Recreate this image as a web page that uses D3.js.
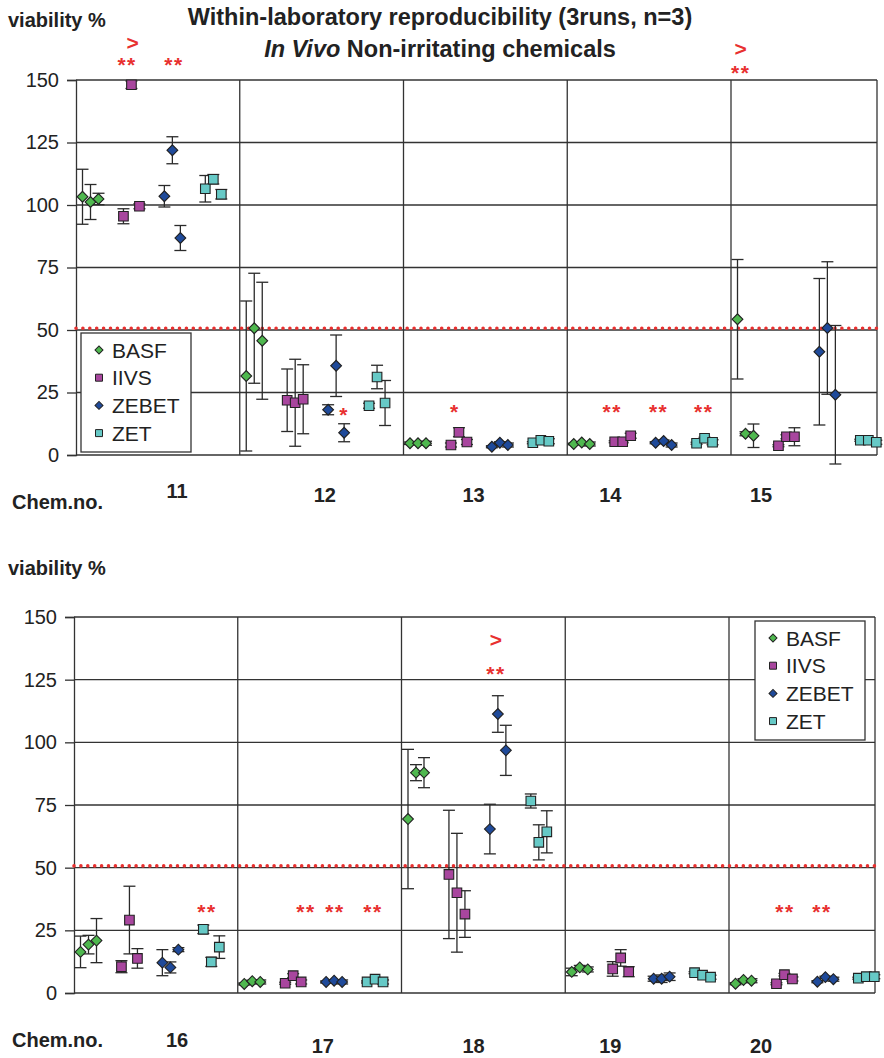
<!DOCTYPE html>
<html>
<head>
<meta charset="utf-8">
<script src="https://cdn.jsdelivr.net/npm/d3@7"></script>
<style>
  body { margin: 0; background: #fff; }
  svg { display: block; }
  text { font-family: "Liberation Sans", Arial, Helvetica, sans-serif; fill: #222; }
</style>
</head>
<body>
<div id="chart"></div>
<script>
// labs, chemicals, ticks
var labs = ["BASF", "IIVS", "ZEBET", "ZET"];
var chemsTop = ["11", "12", "13", "14", "15"];
var chemsBottom = ["16", "17", "18", "19", "20"];
var runs = [1, 2, 3];
var yTicks = [0, 25, 50, 75, 100, 125, 150];
var cutoff = 50.7;

// viability % per chemical (11..20), 3 runs each, with SD
var basfMean = [[103.3, 101.2, 102.4], [31.6, 50.7, 45.7], [4.7, 4.7, 4.7], [4.4, 5.0, 4.4], [54.3, 8.5, 7.7],
                [16.4, 19.3, 20.9], [3.6, 4.7, 4.4], [69.4, 87.9, 87.9], [8.4, 10.2, 9.4], [3.7, 5.2, 4.9]];
var basfSd   = [[11, 7, 2.3], [30, 22, 23.4], [0.5, 0.5, 0.8], [0.3, 0.3, 0.8], [23.9, 0.8, 4.7],
                [6.3, 3.7, 8.8], [0.4, 0.4, 0.8], [27.8, 3.2, 6], [1.5, 0.8, 1], [0.4, 0.5, 0.8]];
var iivsMean = [[95.5, 148.1, 99.5], [21.9, 20.9, 22.3], [4.0, 9.1, 5.2], [5.3, 5.3, 7.7], [3.7, 7.3, 7.3],
                [10.5, 29.1, 13.8], [3.9, 6.9, 4.4], [47.3, 40.0, 31.5], [9.6, 14.0, 8.5], [3.7, 7.3, 5.6]];
var iivsSd   = [[3, 1.5, 1], [12.5, 17.4, 13.8], [0.8, 1.8, 1], [0.4, 0.4, 1], [0.4, 0.8, 3.6],
                [2.4, 13.5, 3.9], [0.4, 0.8, 0.8], [25.6, 23.7, 9.3], [2.9, 3.3, 2], [0.4, 0.5, 0.8]];
var zebetMean = [[103.5, 121.9, 86.8], [18.1, 35.7, 8.9], [3.3, 4.9, 4.0], [4.9, 5.6, 4.0], [41.3, 50.8, 24.1],
                 [12.1, 10.2, 17.3], [4.4, 4.9, 4.4], [65.4, 111.3, 96.8], [5.7, 5.7, 6.5], [4.5, 6.3, 5.5]];
var zebetSd   = [[4.3, 5.4, 5], [2, 12.3, 3.6], [0.4, 0.4, 0.8], [0.4, 0.4, 0.8], [29.3, 26.5, 27.7],
                 [5.2, 2.2, 0.8], [0.4, 0.4, 0.8], [9.9, 7.3, 10], [1, 1.5, 1.5], [0.4, 0.4, 0.8]];
var zetMean = [[106.5, 110.3, 104.3], [19.7, 31.2, 20.8], [4.9, 5.9, 5.5], [4.7, 6.7, 5.1], [5.9, 5.9, 5.1],
               [25.4, 12.4, 18.3], [4.4, 5.5, 4.4], [76.6, 60.1, 64.3], [8.1, 7.1, 6.3], [5.9, 6.5, 6.5]];
var zetSd   = [[5.3, 1.9, 1.9], [1, 4.7, 9], [0.4, 0.4, 1], [0.4, 0.4, 1], [0.4, 0.4, 0.8],
               [1.7, 1.8, 4.5], [0.4, 0.4, 0.8], [2.8, 7, 8.4], [0.4, 0.4, 0.8], [0.4, 0.4, 0.8]];

// significance marks: chemical, lab, run position, value level, text
var marks = [
  ["11", "IIVS", 2.14, 165, ">"], ["11", "IIVS", 1.46, 158, "**"], ["11", "ZEBET", 2.19, 158, "**"],
  ["12", "ZEBET", 2.99, 18, "*"], ["13", "IIVS", 1.5, 19.3, "*"],
  ["14", "IIVS", 0.7, 19.3, "**"], ["14", "ZEBET", 1.37, 19.3, "**"], ["14", "ZET", 1.9, 19.3, "**"],
  ["15", "BASF", 1.4, 162.4, ">"], ["15", "BASF", 1.4, 155, "**"],
  ["16", "ZET", 1.46, 34.3, "**"],
  ["17", "IIVS", 3.6, 34.3, "**"], ["17", "ZEBET", 2.1, 34.3, "**"], ["17", "ZET", 1.74, 34.3, "**"],
  ["18", "ZEBET", 1.76, 140.8, ">"], ["18", "ZEBET", 1.76, 129.2, "**"],
  ["20", "IIVS", 2.06, 34.3, "**"], ["20", "ZEBET", 1.57, 34.3, "**"]
];

var means = { BASF: basfMean, IIVS: iivsMean, ZEBET: zebetMean, ZET: zetMean };
var sds = { BASF: basfSd, IIVS: iivsSd, ZEBET: zebetSd, ZET: zetSd };
var allChems = chemsTop.concat(chemsBottom);

var color = { BASF: "#4fb84f", IIVS: "#a8469e", ZEBET: "#1f4a9a", ZET: "#66c9c6" };
var shape = { BASF: "diamond", IIVS: "square", ZEBET: "diamond", ZET: "square" };
var gridColor = "#333";
var red = "#e8302f";

var svg = d3.select("#chart").append("svg")
    .attr("width", 884)
    .attr("height", 1058);

// a marker path for one lab, rotated squares for diamonds
var markerPath = function(lab, big) {
    var size = shape[lab] === "diamond" ? (big ? 58 : 32) : (big ? 92 : 49);
    return d3.symbol(d3.symbolSquare, size)();
};

// Draws one of the two panels.
var drawPanel = function(cfg) {
    var g = svg.append("g");
    var groupWidth = 163.75;

    var gx = d3.scaleBand().domain(cfg.chems)
        .range([cfg.left, cfg.left + groupWidth * cfg.chems.length]);
    var lx = d3.scaleBand().domain(labs).range([0, gx.bandwidth()]);
    var rx = d3.scaleLinear().domain([1, 3]).range([6.5, 22.5]);
    var y = d3.scaleLinear().domain([0, 150]).range([cfg.bottom, cfg.top]);
    var xOf = function(chem, lab, run) { return gx(chem) + lx(lab) + rx(run); };

    // horizontal grid
    g.selectAll(".hgrid").data(yTicks).enter().append("line")
        .attr("x1", cfg.left).attr("x2", cfg.right)
        .attr("y1", function(d) { return y(d); })
        .attr("y2", function(d) { return y(d); })
        .attr("stroke", gridColor).attr("stroke-width", 1.3);

    // vertical separators between chemicals, plus the right frame
    var seps = cfg.chems.slice(1).map(function(c) { return gx(c); }).concat([cfg.right]);
    g.selectAll(".vgrid").data(seps).enter().append("line")
        .attr("x1", function(d) { return d; }).attr("x2", function(d) { return d; })
        .attr("y1", cfg.top).attr("y2", cfg.bottom)
        .attr("stroke", gridColor).attr("stroke-width", 1.3);

    // y axis
    var axis = g.append("g")
        .attr("transform", "translate(" + cfg.left + ",0)")
        .call(d3.axisLeft(y).tickValues(yTicks).tickSizeOuter(0).tickSize(9).tickPadding(8));
    axis.selectAll("path, line").attr("stroke", gridColor).attr("stroke-width", 1.3);
    axis.selectAll("text").attr("font-size", 20).attr("fill", "#222")
        .style("font-family", "'Liberation Sans', Arial, sans-serif");

    // 50% cut-off, red dotted
    g.append("line")
        .attr("x1", cfg.left).attr("x2", cfg.right)
        .attr("y1", y(cutoff)).attr("y2", y(cutoff))
        .attr("stroke", red).attr("stroke-width", 3.6)
        .attr("stroke-linecap", "round")
        .attr("stroke-dasharray", "0 6.9");

    // points for this panel
    var pts = [];
    cfg.chems.forEach(function(chem) {
        var ci = allChems.indexOf(chem);
        labs.forEach(function(lab) {
            runs.forEach(function(run, ri) {
                pts.push({ chem: chem, lab: lab, run: run,
                    v: means[lab][ci][ri], sd: sds[lab][ci][ri] });
            });
        });
    });

    var capW = 6;
    var eb = g.selectAll(".err").data(pts).enter().append("g")
        .attr("stroke", "#2a2a2a").attr("stroke-width", 1.3);
    eb.append("line")
        .attr("x1", function(d) { return xOf(d.chem, d.lab, d.run); })
        .attr("x2", function(d) { return xOf(d.chem, d.lab, d.run); })
        .attr("y1", function(d) { return y(d.v - d.sd); })
        .attr("y2", function(d) { return y(d.v + d.sd); });
    [-1, 1].forEach(function(s) {
        eb.append("line")
            .attr("x1", function(d) { return xOf(d.chem, d.lab, d.run) - capW; })
            .attr("x2", function(d) { return xOf(d.chem, d.lab, d.run) + capW; })
            .attr("y1", function(d) { return y(d.v + s * d.sd); })
            .attr("y2", function(d) { return y(d.v + s * d.sd); });
    });

    g.selectAll(".pt").data(pts).enter().append("path")
        .attr("d", function(d) { return markerPath(d.lab, true); })
        .attr("transform", function(d) {
            return "translate(" + xOf(d.chem, d.lab, d.run) + "," + y(d.v) + ")" +
                (shape[d.lab] === "diamond" ? " rotate(45)" : "");
        })
        .attr("fill", function(d) { return color[d.lab]; })
        .attr("stroke", "#222").attr("stroke-width", 1.1);

    // significance marks
    var pm = marks.filter(function(m) { return cfg.chems.indexOf(m[0]) >= 0; });
    g.selectAll(".mark").data(pm).enter().append("text")
        .attr("x", function(d) { return xOf(d[0], d[1], d[2]); })
        .attr("y", function(d) { return y(d[3]) + (d[4] === ">" ? 7 : 12); })
        .attr("text-anchor", "middle")
        .attr("font-weight", "bold")
        .attr("font-size", function(d) { return d[4] === ">" ? 21 : 21; })
        .attr("letter-spacing", function(d) { return d[4] === ">" ? 0 : 1.5; })
        .style("fill", red)
        .text(function(d) { return d[4]; });

    // chemical labels (staggered like the original)
    g.selectAll(".chem").data(cfg.chems).enter().append("text")
        .attr("x", function(d, i) { return gx(d) + cfg.labelDx[i]; })
        .attr("y", function(d, i) { return cfg.labelY[i]; })
        .attr("text-anchor", "middle")
        .attr("font-weight", "bold").attr("font-size", 20)
        .text(function(d) { return d; });

    g.append("text").attr("x", 12).attr("y", cfg.chemNoY)
        .attr("font-weight", "bold").attr("font-size", 20)
        .text("Chem.no.");

    g.append("text").attr("x", 8).attr("y", cfg.yLabelY)
        .attr("font-weight", "bold").attr("font-size", 20)
        .text("viability %");

    // legend
    var lg = g.append("g").attr("transform", "translate(" + cfg.legend[0] + "," + cfg.legend[1] + ")");
    lg.append("rect").attr("width", 110).attr("height", 119)
        .attr("fill", "#fff").attr("stroke", "#333").attr("stroke-width", 1.3);
    var row = lg.selectAll(".row").data(labs).enter().append("g")
        .attr("transform", function(d, i) { return "translate(0," + (17 + i * 27.7) + ")"; });
    row.append("path")
        .attr("d", function(d) { return markerPath(d, false); })
        .attr("transform", function(d) { return "translate(18,0)" + (shape[d] === "diamond" ? " rotate(45)" : ""); })
        .attr("fill", function(d) { return color[d]; })
        .attr("stroke", "#222").attr("stroke-width", 1);
    row.append("text").attr("x", 31).attr("y", 7.5)
        .attr("font-size", 21)
        .text(function(d) { return d; });
};

drawPanel({
    chems: chemsTop, left: 76, right: 877, top: 80, bottom: 455,
    legend: [81, 333], labelDx: [101, 85, 70, 43, 30],
    labelY: [498, 502, 502, 502, 502], chemNoY: 509, yLabelY: 27
});

drawPanel({
    chems: chemsBottom, left: 74, right: 875, top: 617, bottom: 993,
    legend: [755, 621], labelDx: [103, 85, 72, 45, 32],
    labelY: [1047, 1053, 1053, 1053, 1053], chemNoY: 1047, yLabelY: 575
});

// title
var title = svg.append("text").attr("x", 440).attr("y", 25)
    .attr("text-anchor", "middle").attr("font-weight", "bold").attr("font-size", 23.5)
    .text("Within-laboratory reproducibility (3runs, n=3)");
var sub = svg.append("text").attr("x", 440).attr("y", 57)
    .attr("text-anchor", "middle").attr("font-weight", "bold").attr("font-size", 23.5);
sub.append("tspan").attr("font-style", "italic").text("In Vivo");
sub.append("tspan").text(" Non-irritating chemicals");
</script>
</body>
</html>
